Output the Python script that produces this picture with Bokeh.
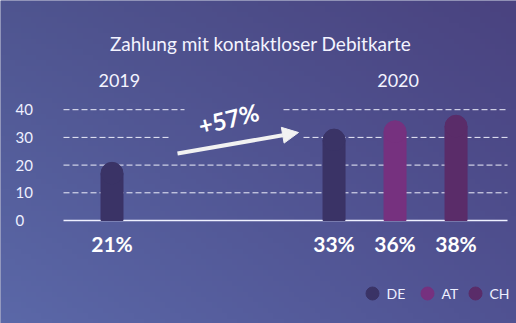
import numpy as np
from bokeh.plotting import figure
from bokeh.models import Range1d, ColumnDataSource, Arrow, NormalHead
from bokeh.core.properties import value
from bokeh.embed import file_html
from bokeh.resources import INLINE

# ---------------- data ----------------
title_text = "Zahlung mit kontaktloser Debitkarte"
years = ["2019", "2020"]
countries = ["DE", "AT", "CH"]
bar_year = ["2019", "2020", "2020", "2020"]
bar_country = ["DE", "DE", "AT", "CH"]
bar_values = [21, 33, 36, 38]
bar_labels = ["21%", "33%", "36%", "38%"]
y_ticks = [0, 10, 20, 30, 40]
y_tick_labels = ["0", "10", "20", "30", "40"]
growth_label = "+57%"
country_colors = ["#3a3366", "#76317f", "#5a2c69"]

# ---------------- layout helpers ----------------
W, H = 516, 323
PX_X = 61.0    # pixels per x unit
PX_Y = 2.77    # pixels per y unit
X0_PX = 111.5  # pixel position of x=0
Y0_PX = 220.0  # pixel position of y=0

def ux(px):
    return (px - X0_PX) / PX_X

def uy(py):
    return (Y0_PX - py) / PX_Y

group_offset = {"2019": 0.0, "2020": 3.64}
color_map = dict(zip(countries, country_colors))

bar_x = [group_offset[y] + countries.index(c) for y, c in zip(bar_year, bar_country)]
bar_w_px = 22
cap_r = (bar_w_px / 2) / PX_Y
src = ColumnDataSource(dict(
    x=bar_x,
    top=[v - cap_r for v in bar_values],
    cap=[v - cap_r for v in bar_values],
    color=[color_map[c] for c in bar_country],
    label=bar_labels,
))

p = figure(width=W, height=H, output_backend="svg", toolbar_location=None,
           x_range=Range1d(ux(0), ux(W)), y_range=Range1d(uy(H), uy(0)),
           x_axis_location=None, y_axis_location=None, min_border=0)
p.grid.visible = False
p.outline_line_color = None
p.background_fill_color = "#525892"
p.border_fill_color = "#525892"

# background gradient
GH, GW = 60, 100
tl = np.array([0x4f, 0x55, 0x90], dtype=float)
tr = np.array([0x4a, 0x43, 0x80], dtype=float)
bl = np.array([0x5b, 0x68, 0xa8], dtype=float)
br = np.array([0x50, 0x52, 0x92], dtype=float)
fy = np.linspace(0, 1, GH)[:, None, None]
fx = np.linspace(0, 1, GW)[None, :, None]
col = bl * (1 - fx) * (1 - fy) + br * fx * (1 - fy) + tl * (1 - fx) * fy + tr * fx * fy
img = np.zeros((GH, GW), dtype=np.uint32)
view = img.view(dtype=np.uint8).reshape((GH, GW, 4))
view[:, :, 0:3] = np.clip(col, 0, 255).astype(np.uint8)
view[:, :, 3] = 255
p.image_rgba(image=[img], x=ux(0), y=uy(H), dw=ux(W) - ux(0), dh=uy(0) - uy(H))

# dashed gridlines (with gaps around the growth arrow)
gl_x0 = ux(63); gl_x1 = ux(507)
seg_x0 = [gl_x0, ux(283), gl_x0, ux(303), gl_x0, gl_x0]
seg_x1 = [ux(184), gl_x1, ux(168), gl_x1, gl_x1, gl_x1]
seg_y = [y_ticks[4], y_ticks[4], y_ticks[3], y_ticks[3], y_ticks[2], y_ticks[1]]
p.segment(x0=seg_x0, y0=seg_y, x1=seg_x1, y1=seg_y, line_color="#f4f5ff",
          line_alpha=0.95, line_width=1, line_dash="6 3")
# baseline
p.segment(x0=[gl_x0], y0=[y_ticks[0]], x1=[gl_x1], y1=[y_ticks[0]],
          line_color="#eef0ff", line_width=1.5)

# bars with rounded tops
p.vbar(x="x", top="top", bottom=0, width=bar_w_px / PX_X, color="color", source=src)
p.scatter(x="x", y="cap", size=bar_w_px, color="color", source=src)

# value labels
p.text(x="x", y=uy(243), text="label", source=src, text_align="center",
       text_baseline="middle", text_font=value("Lato"), text_font_style="bold",
       text_font_size="21px", text_color="#ffffff")

# y tick labels
p.text(x=[ux(15)] * len(y_ticks), y=y_ticks, text=y_tick_labels, text_align="left",
       text_baseline="middle", text_font=value("Lato"), text_font_size="15px",
       text_color="#eef0ff")

# title
p.text(x=[ux(260)], y=[uy(43)], text=[title_text], text_align="center",
       text_baseline="middle", text_font=value("Lato"), text_font_size="19px",
       text_color="#f4f4ff")

# year labels
p.text(x=[group_offset["2019"] + 0.12, group_offset["2020"] + 1.05], y=[uy(80)] * 2,
       text=years, text_align="center", text_baseline="middle",
       text_font=value("Lato"), text_font_size="18px", text_color="#f4f4ff")

# growth arrow
p.add_layout(Arrow(x_start=ux(177), y_start=uy(153), x_end=ux(298), y_end=uy(132),
                   line_color="#f2f2f2", line_width=4,
                   end=NormalHead(size=16, fill_color="#f2f2f2", line_color="#f2f2f2")))
p.text(x=[ux(228)], y=[uy(118)], text=[growth_label], angle=0.24,
       text_align="center", text_baseline="middle", text_font=value("Lato"),
       text_font_style="bold", text_font_size="24px", text_color="#ffffff")

# legend
leg_x = [ux(372), ux(427), ux(475)]
leg_y = uy(293)
p.scatter(x=leg_x, y=[leg_y] * 3, size=13, color=country_colors)
p.text(x=[x + 14 / PX_X for x in leg_x], y=[leg_y] * 3, text=countries,
       text_align="left", text_baseline="middle", text_font=value("Lato"),
       text_font_size="14px", text_color="#eef0ff")

open("out.html", "w").write(file_html(p, INLINE))
